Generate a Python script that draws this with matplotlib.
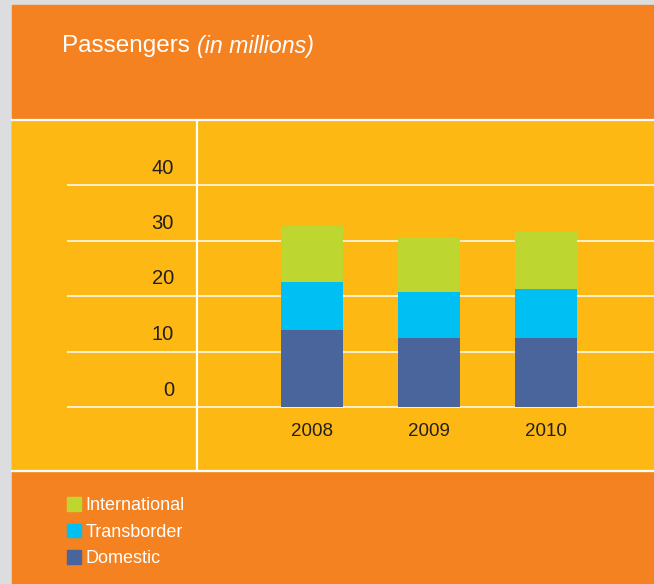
import matplotlib
matplotlib.use("Agg")
import matplotlib.pyplot as plt
import matplotlib.transforms as mtransforms
from matplotlib.patches import Rectangle, Patch
from matplotlib.lines import Line2D
import numpy as np

# data (millions of passengers)
years = ["2008", "2009", "2010"]
domestic = [13.8, 12.4, 12.4]
transborder = [8.7, 8.3, 8.8]
international = [10.1, 9.8, 10.6]
yticks = [0, 10, 20, 30, 40]

orange = "#F58220"
yellow = "#FDB813"
gray = "#DCDDDF"
c_dom = "#4A659C"
c_trans = "#00BFF3"
c_intl = "#BED630"
txt = "#231F20"

plt.rcParams['font.family'] = ['Liberation Sans', 'DejaVu Sans']

W, H = 654, 584
fig = plt.figure(figsize=(W/100, H/100), dpi=100)
fig.patch.set_facecolor(gray)

def fx(px):
    return px / W

def fy(py):
    return 1 - py / H

# background bands
fig.add_artist(Rectangle((fx(12), fy(584)), fx(642), 579/H, transform=fig.transFigure, color=orange, zorder=0))
fig.add_artist(Rectangle((fx(12), fy(471)), fx(642), 351/H, transform=fig.transFigure, color=yellow, zorder=0))
fig.add_artist(Line2D([fx(12), 1], [fy(120), fy(120)], transform=fig.transFigure, color="white", lw=1.6, zorder=1))
fig.add_artist(Line2D([fx(12), 1], [fy(471), fy(471)], transform=fig.transFigure, color="white", lw=1.6, zorder=1))

# axes: x from 67 to 654 px, y from 120 to 471 px
ax = fig.add_axes([fx(67), fy(471), fx(654 - 67), 351/H])
ax.set_facecolor("none")
for s in ax.spines.values():
    s.set_visible(False)
ax.set_xticks([])
ax.set_yticks([])

x = np.arange(len(years))
ax.set_xlim((67 - 312) / 117, (654 - 312) / 117)
ax.set_ylim((407 - 471) / 5.55, (407 - 120) / 5.55)

for v in yticks:
    ax.axhline(v, color="white", lw=1.1, zorder=1)
ax.axvline((197 - 312) / 117, color="white", lw=1.6, zorder=1)

bw = 62 / 117
ax.bar(x, domestic, bw, color=c_dom, zorder=2)
ax.bar(x, transborder, bw, bottom=domestic, color=c_trans, zorder=2)
bot2 = [d + t for d, t in zip(domestic, transborder)]
ax.bar(x, international, bw, bottom=bot2, color=c_intl, zorder=2)

# y labels sit above their gridlines
lab_tr = mtransforms.offset_copy(ax.get_yaxis_transform(), fig=fig, x=0, y=17, units='dots')
for v in yticks:
    ax.text((174 - 67) / 587, v, str(v), transform=lab_tr, ha="right", va="center",
            fontsize=14.5, color=txt)

for i, yr in enumerate(years):
    ax.text(x[i], (407 - 431) / 5.55, yr, ha="center", va="center", fontsize=13.5, color=txt)

# title
fig.text(fx(62), fy(46), "Passengers", color="white", fontsize=17.5, va="center")
fig.text(fx(197), fy(46), "(in millions)", color="white", fontsize=16.7, va="center", style="italic")

# legend
handles = [Patch(color=c_intl), Patch(color=c_trans), Patch(color=c_dom)]
leg = fig.legend(handles, ["International", "Transborder", "Domestic"], loc="upper left",
                 bbox_to_anchor=(fx(67), fy(497)), frameon=False, fontsize=13,
                 handlelength=0.78, handleheight=0.78, handletextpad=0.25,
                 labelspacing=0.53, borderpad=0, borderaxespad=0)
for t in leg.get_texts():
    t.set_color("white")

fig.savefig("out.png", dpi=100, facecolor=fig.get_facecolor())
